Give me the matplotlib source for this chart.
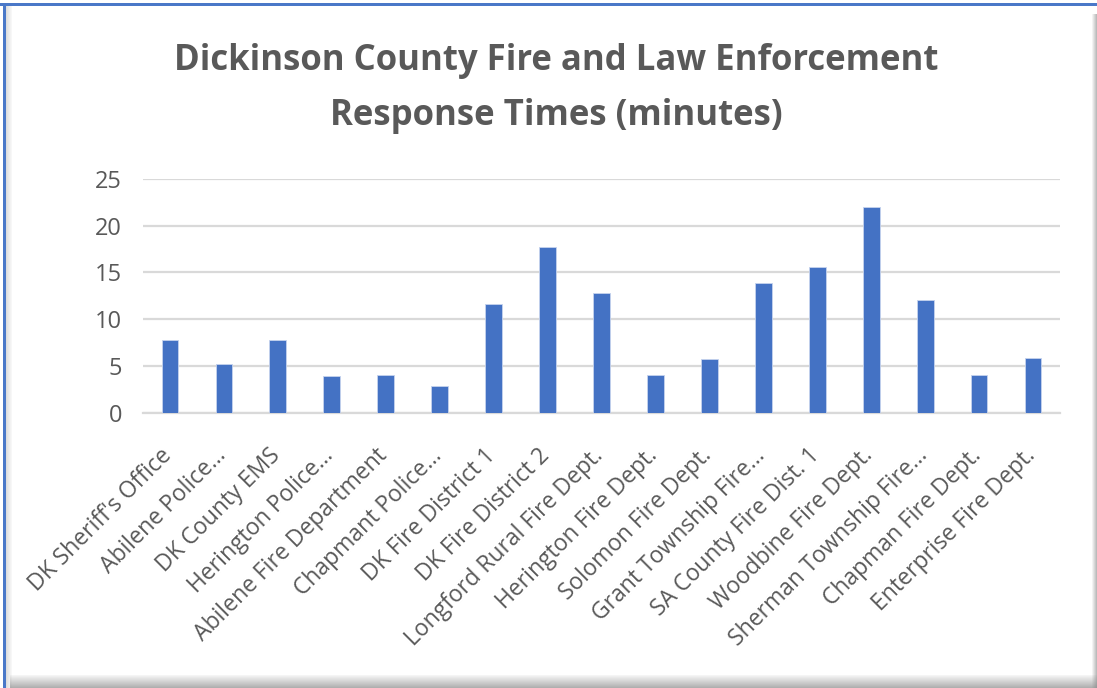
import matplotlib
matplotlib.use("Agg")
import matplotlib.pyplot as plt
from matplotlib.patches import Rectangle
from matplotlib.transforms import ScaledTranslation

# Response times by agency (minutes)
agencies = [
    "DK Sheriff's Office", "Abilene Police…", "DK County EMS", "Herington Police…",
    "Abilene Fire Department", "Chapmant Police…", "DK Fire District 1",
    "DK Fire District 2", "Longford Rural Fire Dept.", "Herington Fire Dept.",
    "Solomon Fire Dept.", "Grant Township Fire…", "SA County Fire Dist. 1",
    "Woodbine Fire Dept.", "Sherman Township Fire…", "Chapman Fire Dept.",
    "Enterprise Fire Dept.",
]
minutes = [7.8, 5.2, 7.8, 3.9, 4.0, 2.9, 11.6, 17.7, 12.8, 4.0,
           5.7, 13.9, 15.6, 22.0, 12.1, 4.0, 5.8]
y_ticks = [0, 5, 10, 15, 20, 25]

TEXT = "#595959"
GRID = "#d9d9d9"
BAR = "#4472c4"
FONT = "Open Sans"

W, H = 1097, 688
fig = plt.figure(figsize=(W / 100, H / 100), dpi=100)
fig.patch.set_facecolor("white")


def px_rect(x0, y0, w, h, **kw):
    """Rectangle in pixel coordinates measured from the top-left corner."""
    fig.add_artist(Rectangle((x0 / W, 1 - (y0 + h) / H), w / W, h / H,
                             transform=fig.transFigure, lw=0, **kw))


# drop shadow along the right and bottom edges
for i in range(13):
    px_rect(10, 675 + i, W - 10, 1, color="#8a8a8a", alpha=0.08 + 0.05 * i)
for i in range(5):
    px_rect(1092 + i, 14, 1, H - 14, color="#8a8a8a", alpha=0.1 + 0.12 * i)
# inner soft edge next to the left border
for i in range(6):
    px_rect(6 + i, 6, 1, H - 6, color="#a0a0a0", alpha=0.35 - 0.055 * i)
# blue frame on top and left
px_rect(0, 3, W, 3, color="#4a78c8")
px_rect(3, 3, 3, H - 3, color="#4a78c8")

ax = fig.add_axes([143 / W, 1 - 412.7 / H, (1060 - 143) / W, (412.7 - 179) / H])
x = list(range(len(agencies)))
ax.bar(x, minutes, width=0.31, color=BAR, edgecolor="#c5d3ee",
       linewidth=0.6, zorder=3)
ax.set_xlim(-0.5, len(agencies) - 0.5)
ax.set_ylim(0, 25)
ax.set_yticks(y_ticks)
ax.set_yticklabels([str(t) for t in y_ticks], fontsize=17,
                   color=TEXT, family=FONT)
ax.grid(axis="y", color=GRID, linewidth=1.6, zorder=0)
for s in ["top", "right", "left"]:
    ax.spines[s].set_visible(False)
ax.spines["bottom"].set_color(GRID)
ax.spines["bottom"].set_linewidth(1.6)
ax.tick_params(axis="both", length=0)
ax.tick_params(axis="y", pad=15)
ax.set_xticks(x)
ax.set_xticklabels(agencies, rotation=45, ha="right", va="top",
                   rotation_mode="anchor", fontsize=16.5, color=TEXT,
                   family=FONT)
ax.tick_params(axis="x", pad=18)
# nudge the slanted labels so their ends sit under the bars
shift = ScaledTranslation(-10 / 100, -6 / 100, fig.dpi_scale_trans)
for lbl in ax.get_xticklabels():
    lbl.set_transform(lbl.get_transform() + shift)

title_lines = ["Dickinson County Fire and Law Enforcement",
               "Response Times (minutes)"]
for line, base in zip(title_lines, [70, 125]):
    fig.text(556 / W, 1 - base / H, line, ha="center", va="baseline",
             fontsize=25, fontweight="bold", color=TEXT, family=FONT)

fig.savefig("out.png", dpi=100)
